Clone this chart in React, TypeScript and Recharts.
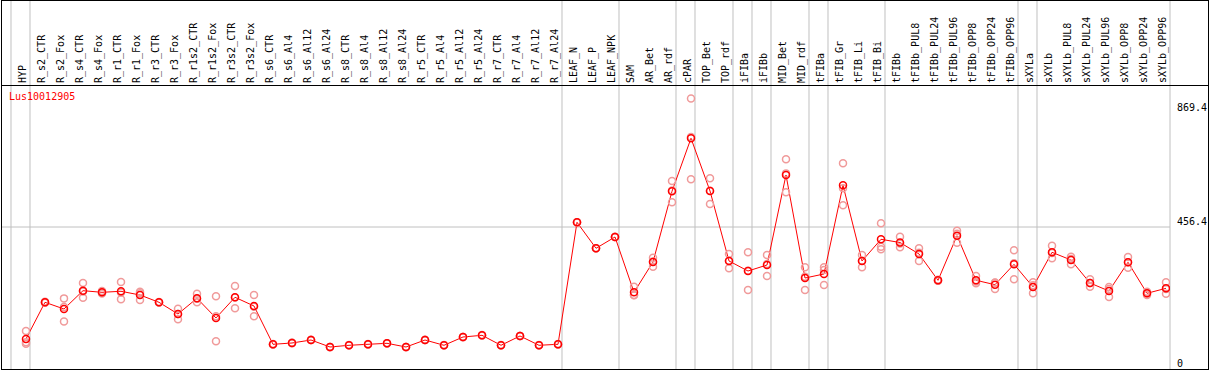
import React from "react";
import { ComposedChart, Line, XAxis, YAxis, ReferenceLine } from "recharts";

const categories = [
  "HYP", "R_s2_CTR", "R_s2_Fox", "R_s4_CTR", "R_s4_Fox", "R_r1_CTR", "R_r1_Fox", "R_r3_CTR", "R_r3_Fox",
  "R_r1s2_CTR", "R_r1s2_Fox", "R_r3s2_CTR", "R_r3s2_Fox", "R_s6_CTR", "R_s6_Al4", "R_s6_Al12", "R_s6_Al24",
  "R_s8_CTR", "R_s8_Al4", "R_s8_Al12", "R_s8_Al24", "R_r5_CTR", "R_r5_Al4", "R_r5_Al12", "R_r5_Al24",
  "R_r7_CTR", "R_r7_Al4", "R_r7_Al12", "R_r7_Al24", "LEAF_N", "LEAF_P", "LEAF_NPK", "SAM", "AR_Bet", "AR_rdf",
  "cPAR", "TOP_Bet", "TOP_rdf", "iFIBa", "iFIBb", "MID_Bet", "MID_rdf", "tFIBa", "tFIB_Gr", "tFIB_Li", "tFIB_Bi",
  "tFIBb", "tFIBb_PUL8", "tFIBb_PUL24", "tFIBb_PUL96", "tFIBb_OPP8", "tFIBb_OPP24", "tFIBb_OPP96",
  "sXYLa", "sXYLb", "sXYLb_PUL8", "sXYLb_PUL24", "sXYLb_PUL96", "sXYLb_OPP8", "sXYLb_OPP24", "sXYLb_OPP96",
];

const meanValues = [
  96.4, 214.4, 192.9, 251.7, 246.5, 249.8, 237.9, 214.4, 176.8, 227.3, 164.0, 230.5, 202.5,
  79.4, 83.6, 93.2, 70.7, 76.2, 79.4, 82.6, 70.7, 93.2, 76.2, 102.9, 108.3, 76.2, 106.1, 76.2, 79.4,
  471.6, 388.0, 424.3, 246.5, 344.0, 571.2, 741.6, 572.2, 347.2, 315.0, 334.3, 623.6, 292.5, 305.4,
  590.5, 347.2, 416.9, 406.6, 369.7, 285.1, 428.5, 285.1, 271.0, 336.5, 263.6, 375.1, 350.4, 276.4,
  250.7, 343.0, 243.3, 259.4,
];

const rep1 = [
  122, 216, 227, 276.4, 251, 279.7, 248.5, 215, 193.8, 242, 233.7, 266.8, 237.9,
  80, 84, 94, 71, 77, 80, 83, 71, 94, 77, 103, 109, 77, 106, 77, 80,
  472, 388, 424, 264.5, 357.8, 604.3, 869.4, 613, 369.7, 375.1, 366.4, 674, 326.9, 326.9,
  661.2, 366.4, 468.3, 425.3, 388, 287, 444.6, 298.9, 277.4, 381.5, 278.7, 396.3, 361, 288.3,
  263.6, 360, 248.5, 278.7,
];

const rep2 = [
  86, 213, 153, 229.2, 243, 224, 221.8, 214, 159.8, 214.4, 89, 195, 169.4,
  79, 83, 93, 70, 76, 79, 82, 70, 93, 76, 102, 108, 76, 106, 76, 79,
  471, 388, 424, 237.9, 328.8, 535.8, 609.8, 530.4, 323.7, 253.9, 298.9, 568, 253.9, 318.2,
  526.2, 326.9, 384.8, 391.2, 347.2, 284, 406, 275.5, 257.2, 288.3, 243.3, 355.8, 336.5, 264.5,
  231.4, 325.6, 237.9, 242,
];

const rep3 = [
  81, 214, 199, 249.5, 245, 245.7, 243.4, 214, 176.8, 225.5, 169.3, 229.7, 200.2,
  79, 84, 93, 71, 76, 79, 83, 71, 93, 76, 103, 108, 76, 106, 76, 79,
  472, 388, 425, 237, 345.4, 573.5, 745.6, 573.2, 348.2, 316, 337.6, 628.8, 296.7, 270,
  580.8, 348.3, 393.1, 403.3, 373.9, 284, 434.9, 280.9, 278.4, 339.7, 268.8, 373.2, 353.7, 276.4,
  257.1, 343.4, 243.5, 257.5,
];

const groupBreaks = [-1, 0, 28, 31, 34, 35, 37, 38, 39, 41, 42, 45, 52, 53, 60];
const yTicks = [0, 456.4, 869.4];
const geneLabel = "Lus10012905";

const Y_MAX = 869.4 * 1.05;
const HEADER_TOP_VALUE = Y_MAX * (369 / 284);
const BREAK_OFFSET = 0.21;

const data = categories.map((name, i) => ({
  idx: i,
  name,
  mean: meanValues[i],
  r1: rep1[i],
  r2: rep2[i],
  r3: rep3[i],
}));

const FONT = "'DejaVu Sans Mono', monospace";

function HeaderTick(props: any) {
  const { x, payload } = props;
  const y = 83;
  return (
    <text
      x={x}
      y={y}
      transform={`rotate(-90 ${x} ${y})`}
      fontFamily={FONT}
      fontSize={10}
      fill="#000"
      textAnchor="start"
    >
      {categories[payload.value]}
    </text>
  );
}

function ValueTick(props: any) {
  const { y, payload } = props;
  const isTop = payload.value === Math.max(...yTicks);
  return (
    <text
      x={1177}
      y={isTop ? y + 12 : y - 2.5}
      fontFamily={FONT}
      fontSize={10}
      fill="#000"
      textAnchor="start"
    >
      {String(payload.value)}
    </text>
  );
}

const repDot = { r: 3.5, stroke: "#f09a9a", strokeWidth: 1.5, fill: "none" };
const meanDot = { r: 3.5, stroke: "#ff0000", strokeWidth: 1.5, fill: "none" };

export default function App() {
  return (
    <div style={{ position: "relative", width: 1209, height: 370, background: "#fff" }}>
      <style>{"body{margin:0;}"}</style>
      <ComposedChart
        width={1209}
        height={370}
        data={data}
        margin={{ top: 0, right: 0, bottom: 1, left: 2 }}
      >
        <XAxis
          xAxisId={0}
          type="number"
          dataKey="idx"
          orientation="top"
          height={85}
          domain={[-1.263, 60.21]}
          allowDataOverflow
          ticks={categories.map((_, i) => i)}
          interval={0}
          tick={<HeaderTick />}
          tickLine={false}
          axisLine={false}
        />
        <YAxis
          yAxisId={0}
          orientation="right"
          width={39}
          domain={[0, Y_MAX]}
          allowDataOverflow
          ticks={yTicks}
          interval={0}
          tick={<ValueTick />}
          tickLine={false}
          axisLine={false}
        />
        <ReferenceLine y={456.4} stroke="#c0c0c0" strokeWidth={1} />
        {groupBreaks.map((b) => (
          <ReferenceLine
            key={b}
            segment={[
              { x: b + BREAK_OFFSET, y: 0 },
              { x: b + BREAK_OFFSET, y: HEADER_TOP_VALUE },
            ]}
            ifOverflow="visible"
            stroke="#c0c0c0"
            strokeWidth={1}
          />
        ))}
        <Line dataKey="r1" stroke="none" dot={repDot} activeDot={false} isAnimationActive={false} />
        <Line dataKey="r2" stroke="none" dot={repDot} activeDot={false} isAnimationActive={false} />
        <Line dataKey="r3" stroke="none" dot={repDot} activeDot={false} isAnimationActive={false} />
        <Line
          dataKey="mean"
          stroke="#ff0000"
          strokeWidth={1}
          dot={meanDot}
          activeDot={false}
          isAnimationActive={false}
        />
      </ComposedChart>
      <div
        style={{
          position: "absolute",
          left: 1,
          top: 0,
          width: 1208,
          height: 370,
          border: "1px solid #000",
          boxSizing: "border-box",
          pointerEvents: "none",
        }}
      />
      <div
        style={{
          position: "absolute",
          left: 1,
          top: 85,
          width: 1208,
          height: 1,
          background: "#000",
          pointerEvents: "none",
        }}
      />
      <div
        style={{
          position: "absolute",
          left: 9,
          top: 91,
          fontFamily: FONT,
          fontSize: 10,
          lineHeight: "12px",
          color: "#ff0000",
          whiteSpace: "nowrap",
        }}
      >
        {geneLabel}
      </div>
    </div>
  );
}
